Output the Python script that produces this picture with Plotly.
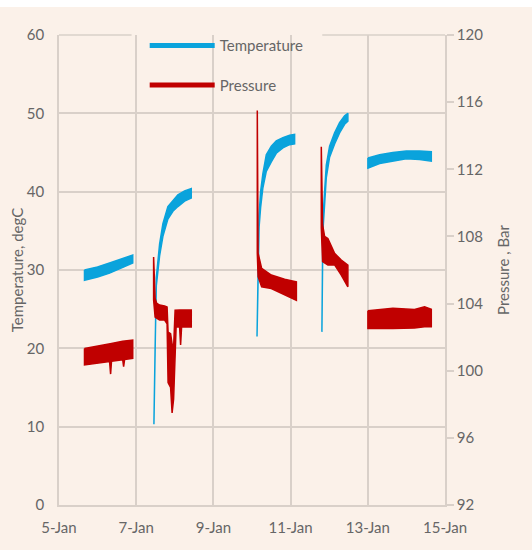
import numpy as np
import pandas as pd
import plotly.graph_objects as go

# ---- data (time = decimal day of January) ----
# Temperature segments (degC): lower / upper edge of the noisy trace
t1_time = [5.66, 6.00, 6.31, 6.91]
t1_lo = [28.7, 29.1, 29.6, 30.9]
t1_hi = [30.0, 30.4, 30.9, 31.9]

t2_time = [7.459, 7.490, 7.521, 7.606, 7.692, 7.821, 7.951, 8.080, 8.254, 8.427]
t2_lo = [10.3, 20.0, 28.0, 31.8, 34.3, 36.5, 37.5, 38.1, 38.8, 39.2]
t2_hi = [10.3, 20.0, 29.0, 33.3, 35.9, 38.1, 38.9, 39.6, 40.1, 40.4]

t3_time = [10.130, 10.158, 10.184, 10.223, 10.282, 10.370, 10.500, 10.629, 10.800, 10.974, 11.104]
t3_lo = [21.5, 30.5, 35.5, 38.0, 40.5, 42.6, 43.8, 44.9, 45.6, 46.0, 46.1]
t3_hi = [21.5, 32.0, 37.0, 40.0, 42.3, 44.7, 45.8, 46.5, 46.9, 47.2, 47.3]

t4_time = [11.811, 11.837, 11.881, 11.925, 12.010, 12.140, 12.269, 12.399, 12.484]
t4_lo = [22.1, 35.0, 38.4, 41.8, 44.4, 46.1, 47.5, 48.6, 49.0]
t4_hi = [22.1, 36.5, 40.0, 43.4, 45.8, 47.5, 48.8, 49.7, 50.0]

t5_time = [13.003, 13.306, 13.650, 13.997, 14.342, 14.645]
t5_lo = [43.0, 43.6, 43.9, 44.2, 44.1, 43.9]
t5_hi = [44.3, 44.7, 45.0, 45.2, 45.2, 45.1]

# Pressure segments (Bar): lower / upper edge of the noisy trace
p1_time = [5.66, 6.00, 6.31, 6.337, 6.36, 6.65, 6.674, 6.70, 6.91]
p1_lo = [100.34, 100.45, 100.55, 99.80, 100.56, 100.66, 100.24, 100.67, 100.74]
p1_hi = [101.33, 101.45, 101.60, 101.61, 101.62, 101.75, 101.76, 101.77, 101.83]

p2_time = [7.451, 7.490, 7.528, 7.606, 7.736, 7.800, 7.826, 7.891, 7.930, 7.969,
           8.008, 8.034, 8.124, 8.150, 8.176, 8.427]
p2_lo = [104.21, 103.20, 103.14, 103.02, 103.02, 102.80, 99.30, 99.00, 97.48, 98.30,
         101.00, 102.60, 102.60, 101.53, 102.60, 102.60]
p2_hi = [106.77, 104.30, 104.03, 103.91, 103.85, 103.80, 102.30, 102.20, 101.60, 101.40,
         103.60, 103.61, 103.61, 103.61, 103.61, 103.61]

p3_time = [10.137, 10.158, 10.250, 10.500, 10.845, 11.150]
p3_lo = [107.00, 105.60, 105.00, 104.90, 104.55, 104.20]
p3_hi = [115.50, 107.00, 106.10, 105.70, 105.45, 105.30]

p4_time = [11.795, 11.829, 11.881, 11.966, 12.140, 12.313, 12.484]
p4_lo = [108.50, 106.50, 106.40, 106.30, 106.30, 105.70, 105.00]
p4_hi = [113.34, 108.70, 108.00, 107.88, 106.99, 106.59, 106.29]

p5_time = [13.003, 13.650, 14.210, 14.470, 14.645]
p5_lo = [102.52, 102.52, 102.55, 102.62, 102.62]
p5_hi = [103.57, 103.72, 103.65, 103.81, 103.66]

temp_segments = [(t1_time, t1_lo, t1_hi), (t2_time, t2_lo, t2_hi), (t3_time, t3_lo, t3_hi),
                 (t4_time, t4_lo, t4_hi), (t5_time, t5_lo, t5_hi)]
pres_segments = [(p1_time, p1_lo, p1_hi), (p2_time, p2_lo, p2_hi), (p3_time, p3_lo, p3_hi),
                 (p4_time, p4_lo, p4_hi), (p5_time, p5_lo, p5_hi)]

x_range = ["2023-01-05", "2023-01-15"]
temp_range = [0, 60]
pres_range = [92, 120]

TEMP_COLOR = "#0AA3DC"
PRES_COLOR = "#C00000"
BG = "#FBF1E9"
GRID = "#D9D0C9"
TXT = "#666666"
FONT = "Lato"

base = pd.Timestamp("2023-01-01")


def to_dt(days):
    return base + pd.to_timedelta(np.asarray(days) - 1.0, unit="D")


fig = go.Figure()

# legend entries
fig.add_trace(go.Scatter(x=[None], y=[None], mode="lines", name="Temperature",
                         line=dict(color=TEMP_COLOR, width=5), legendgroup="t"))
fig.add_trace(go.Scatter(x=[None], y=[None], mode="lines", name="Pressure",
                         line=dict(color=PRES_COLOR, width=5), legendgroup="p", yaxis="y2"))


def add_band(times, lo, hi, color, yaxis, group):
    ts = list(to_dt(times))
    xs = ts + ts[::-1] + [ts[0]]
    ys = list(hi) + list(lo)[::-1] + [hi[0]]
    fig.add_trace(go.Scatter(x=xs, y=ys, mode="lines", fill="toself", fillcolor=color,
                             line=dict(color=color, width=1.5), showlegend=False,
                             legendgroup=group, hoverinfo="skip", yaxis=yaxis))


for seg in temp_segments:
    add_band(*seg, TEMP_COLOR, "y", "t")
for seg in pres_segments:
    add_band(*seg, PRES_COLOR, "y2", "p")

# legend backdrop that hides the grid behind the legend (paper coordinates)
leg_x0, leg_x1, leg_y0 = 0.188, 0.682, 0.855

fig.update_layout(
    width=532, height=550,
    margin=dict(l=51, r=95, t=27, b=53, autoexpand=False),
    paper_bgcolor=BG, plot_bgcolor=BG,
    font=dict(family=FONT, size=15, color=TXT),
    xaxis=dict(type="date", range=x_range, tick0="2023-01-05", dtick=2 * 86400000,
               tickformat="%-d-%b", showgrid=True, gridcolor=GRID, gridwidth=1.5,
               showline=True, linecolor=GRID, linewidth=1.5, mirror=False,
               ticks="", zeroline=False, ticklabelstandoff=8, automargin=False),
    yaxis=dict(range=temp_range, dtick=10, showgrid=True, gridcolor=GRID, gridwidth=1.5,
               showline=True, linecolor=GRID, linewidth=1.5, ticks="", zeroline=False,
               ticklabelstandoff=10, automargin=False,
               title=dict(text="Temperature, degC", standoff=13, font=dict(size=15, color=TXT))),
    yaxis2=dict(range=pres_range, dtick=4, overlaying="y", side="right", showgrid=False,
                showline=True, linecolor=GRID, linewidth=1.5, ticks="outside", ticklen=7,
                tickcolor=GRID, tickwidth=1.5, zeroline=False, automargin=False,
                title=dict(text="Pressure , Bar", standoff=16, font=dict(size=15, color=TXT))),
    legend=dict(x=0.222, xanchor="left", y=1.012, yanchor="top", bgcolor="rgba(0,0,0,0)",
                itemwidth=65, tracegroupgap=17, font=dict(size=15, color=TXT),
                traceorder="grouped"),
    shapes=[
        dict(type="rect", xref="paper", yref="paper", x0=leg_x0, x1=leg_x1, y0=leg_y0, y1=1.01,
             fillcolor=BG, line=dict(width=0), layer="between"),
        dict(type="line", xref="paper", yref="paper", x0=0, x1=leg_x0, y0=1, y1=1,
             line=dict(color=GRID, width=1.5), layer="between"),
        dict(type="line", xref="paper", yref="paper", x0=leg_x1, x1=1, y0=1, y1=1,
             line=dict(color=GRID, width=1.5), layer="between"),
    ],
)

fig.write_html(
    "out.html",
    post_script="document.body.style.background='linear-gradient(to bottom, #ffffff 0px, "
                "#ffffff 7px, " + BG + " 7px)';",
)
